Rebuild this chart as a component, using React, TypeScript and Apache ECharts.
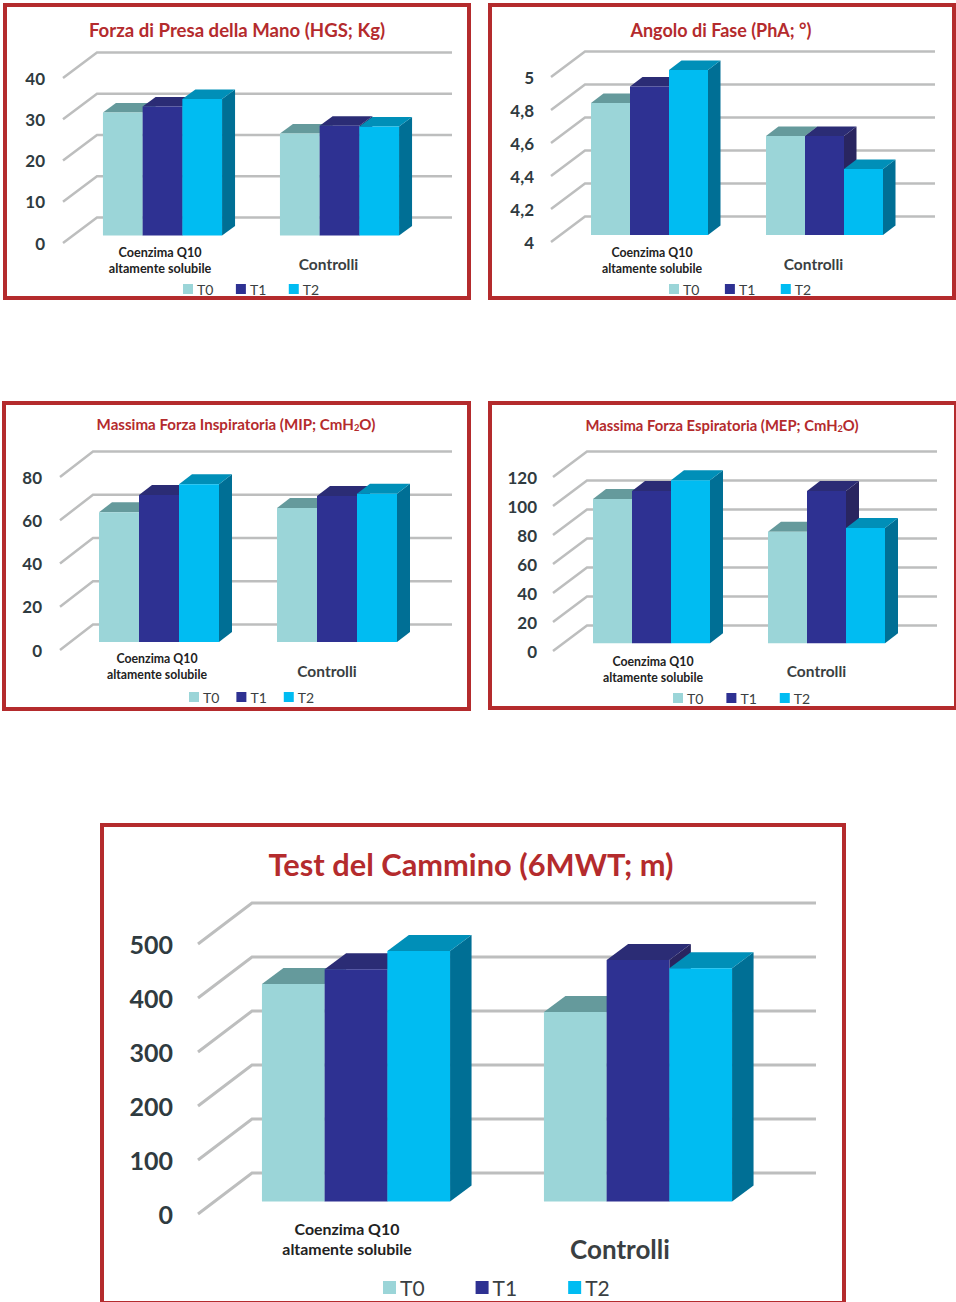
import React, { useEffect, useRef } from "react";
import * as echarts from "echarts";

// Group labels and legend entries shared by all panels
const categories = ["Coenzima Q10\naltamente solubile", "Controlli"];
const seriesNames = ["T0", "T1", "T2"];

// Hand grip strength (HGS; Kg)
const hgsT0 = [29.8, 24.7];
const hgsT1 = [31.3, 26.6];
const hgsT2 = [33.1, 26.4];

// Phase angle (PhA)
const phaT0 = [4.8, 4.6];
const phaT1 = [4.9, 4.6];
const phaT2 = [5.0, 4.4];

// Maximal inspiratory pressure (MIP; CmH2O)
const mipT0 = [60, 62];
const mipT1 = [68, 67.5];
const mipT2 = [73, 68.5];

// Maximal expiratory pressure (MEP; CmH2O)
const mepT0 = [99.5, 77];
const mepT1 = [105, 105];
const mepT2 = [112.5, 79.5];

// Six-minute walk test (6MWT; m)
const mwtT0 = [403, 351];
const mwtT1 = [430, 447];
const mwtT2 = [464, 432];

const frontColors = ["#9BD5D8", "#2E3192", "#00BCF2"];
const topColors = ["#659A9C", "#2B2C75", "#008FB8"];
const sideColors = ["#6C9FA1", "#292560", "#006F95"];
const TITLE_RED = "#B42B2D";
const FONT = "Lato, 'Open Sans', sans-serif";

const panels = [
  {
    title: "Forza di Presa della Mano (HGS; Kg)", values: [hgsT0, hgsT1, hgsT2], min: 0, max: 40, step: 10,
    frame: [5, 5, 464, 293], frameWidth: 4, titleAt: [237, 30], titleSize: 18.6,
    y0: 243, yMax: 78, c1: 162.5, band: 177, barW: 39.7, labelRight: 45,
    lineLeft: 63, lineDx: 34, lineDy: 25.5, lineRight: 452, lineW: 2.5,
    baseUp: 7.5, depthX: 13, depthY: 9.5, axisSize: 17, catSize: 12.6, ctlSize: 15.5,
    catTop: 244, catLine: 16, catShift: -2.5, ctlY: 264, ctlShift: -11,
    legendAt: [183, 289], legendSize: 14, swatch: 10, legendGap: 22.5,
  },
  {
    title: "Angolo di Fase (PhA; °)", values: [phaT0, phaT1, phaT2], min: 4, max: 5, step: 0.2,
    frame: [490, 5, 464, 293], frameWidth: 4, titleAt: [721, 30], titleSize: 18,
    y0: 242, yMax: 77, c1: 649.5, band: 175, barW: 39, labelRight: 534,
    lineLeft: 551, lineDx: 34, lineDy: 25.5, lineRight: 935, lineW: 2.5,
    baseUp: 7, depthX: 12.5, depthY: 9.5, axisSize: 17, catSize: 12.3, ctlSize: 15.5,
    catTop: 244, catLine: 16, catShift: 2.5, ctlY: 264, ctlShift: -11,
    legendAt: [669, 289], legendSize: 14, swatch: 10, legendGap: 25.5,
  },
  {
    title: "Massima Forza Inspiratoria (MIP; CmH{s|2}O)", values: [mipT0, mipT1, mipT2], min: 0, max: 80, step: 20,
    frame: [4, 403, 465, 306], frameWidth: 4, titleAt: [236, 423.5], titleSize: 15.1,
    y0: 650, yMax: 477, c1: 159, band: 178, barW: 40, labelRight: 42,
    lineLeft: 60, lineDx: 33, lineDy: 25.5, lineRight: 452, lineW: 2.5,
    baseUp: 8, depthX: 13, depthY: 10, axisSize: 17, catSize: 12.3, ctlSize: 15.5,
    catTop: 651, catLine: 15.5, catShift: -2, ctlY: 671, ctlShift: -10,
    legendAt: [189, 697], legendSize: 14, swatch: 10, legendGap: 17,
  },
  {
    title: "Massima Forza Espiratoria (MEP; CmH{s|2}O)", values: [mepT0, mepT1, mepT2], min: 0, max: 120, step: 20,
    frame: [490, 403, 466, 305], frameWidth: 4, titleAt: [722, 425], titleSize: 14.8,
    y0: 651, yMax: 477, c1: 651.5, band: 175, barW: 39, labelRight: 537,
    lineLeft: 553, lineDx: 34, lineDy: 25.5, lineRight: 937, lineW: 2.5,
    baseUp: 7.7, depthX: 13, depthY: 10, axisSize: 17, catSize: 12.3, ctlSize: 15.5,
    catTop: 653, catLine: 16, catShift: 1.5, ctlY: 671, ctlShift: -10,
    legendAt: [673, 698], legendSize: 14, swatch: 10, legendGap: 23,
  },
  {
    title: "Test del Cammino (6MWT; m)", values: [mwtT0, mwtT1, mwtT2], min: 0, max: 500, step: 100,
    frame: [102, 825, 742, 478], frameWidth: 4, titleAt: [471, 864], titleSize: 30.8,
    y0: 1214, yMax: 944, c1: 356, band: 282, barW: 62.7, labelRight: 173,
    lineLeft: 198, lineDx: 54, lineDy: 41, lineRight: 816, lineW: 3,
    baseUp: 12.5, depthX: 21.5, depthY: 16, axisSize: 25, catSize: 15.9, ctlSize: 26,
    catTop: 1218, catLine: 20, catShift: -9, ctlY: 1249, ctlShift: -18,
    legendAt: [383, 1287.5], legendSize: 21, swatch: 13, legendGap: 51,
  },
];

function buildOption() {
  const title: any[] = [];
  const grid: any[] = [];
  const xAxis: any[] = [];
  const yAxis: any[] = [];
  const legend: any[] = [];
  const series: any[] = [];
  const graphic: any[] = [];

  panels.forEach((p, i) => {
    const [fx, fy, fw, fh] = p.frame;
    graphic.push({
      type: "rect",
      shape: { x: fx, y: fy, width: fw, height: fh },
      style: { fill: "#fff", stroke: TITLE_RED, lineWidth: p.frameWidth },
      z: -1,
    });

    title.push({
      text: p.title,
      left: p.titleAt[0],
      top: p.titleAt[1],
      textAlign: "center",
      textVerticalAlign: "middle",
      padding: 0,
      textStyle: {
        color: TITLE_RED,
        fontFamily: FONT,
        fontWeight: "bold",
        fontSize: p.titleSize,
        rich: {
          s: {
            color: TITLE_RED,
            fontFamily: FONT,
            fontWeight: "bold",
            fontSize: p.titleSize * 0.62,
            padding: [7, 0, 0, 0],
          },
        },
      },
    });

    const gridLeft = p.c1 - p.band / 2;
    grid.push({
      left: gridLeft,
      width: p.band * 2,
      top: p.yMax,
      height: p.y0 - p.yMax,
      containLabel: false,
    });

    // The two group labels sit off their band centres, so each is nudged with padding
    const nudge = (shift: number) =>
      shift < 0 ? [0, -2 * shift, 0, 0] : [0, 0, 0, 2 * shift];

    xAxis.push({
      type: "category",
      gridIndex: i,
      data: categories,
      axisLine: { show: false },
      axisTick: { show: false },
      axisLabel: {
        interval: 0,
        margin: p.catTop - p.y0,
        formatter: (v: string) =>
          v.includes("\n")
            ? v.split("\n").map((s) => `{a|${s}}`).join("\n")
            : `{b|${v}}`,
        rich: {
          a: {
            fontFamily: FONT,
            fontWeight: "bold",
            fontSize: p.catSize,
            lineHeight: p.catLine,
            color: "#222",
            padding: nudge(p.catShift),
          },
          b: {
            fontFamily: FONT,
            fontWeight: "bold",
            fontSize: p.ctlSize,
            lineHeight: 2 * (p.ctlY - p.catTop),
            color: "#3A3F42",
            padding: nudge(p.ctlShift),
          },
        },
      },
    });

    yAxis.push({
      type: "value",
      gridIndex: i,
      min: p.min,
      max: p.max,
      interval: p.step,
      axisLine: { show: false },
      axisTick: { show: false },
      splitLine: { show: false },
      axisLabel: {
        margin: gridLeft - p.labelRight,
        fontFamily: FONT,
        fontWeight: "bold",
        fontSize: p.axisSize,
        color: "#2F3B40",
        formatter: (v: number) => String(Number(v.toFixed(1))).replace(".", ","),
      },
    });

    legend.push({
      data: seriesNames,
      left: p.legendAt[0],
      top: p.legendAt[1] - p.legendSize / 2,
      orient: "horizontal",
      padding: 0,
      icon: "rect",
      itemWidth: p.swatch,
      itemHeight: p.swatch,
      itemGap: p.legendGap,
      selectedMode: false,
      textStyle: {
        fontFamily: FONT,
        fontSize: p.legendSize,
        color: "#3A3F42",
        padding: [0, 0, 0, -1],
      },
    });

    // Receding gridlines: a short diagonal on the side wall, then the back wall
    const ticks: number[][] = [];
    for (let k = 0; k <= Math.round((p.max - p.min) / p.step); k++) {
      ticks.push([0, p.min + k * p.step]);
    }
    series.push({
      type: "custom",
      name: "griglia",
      coordinateSystem: "cartesian2d",
      xAxisIndex: i,
      yAxisIndex: i,
      silent: true,
      encode: { x: 0, y: 1 },
      data: ticks,
      renderItem: (_params: any, api: any) => {
        const y = api.coord([0, api.value(1)])[1];
        return {
          type: "polyline",
          shape: {
            points: [
              [p.lineLeft, y],
              [p.lineLeft + p.lineDx, y - p.lineDy],
              [p.lineRight, y - p.lineDy],
            ],
          },
          style: { fill: "none", stroke: "#BDBEBE", lineWidth: p.lineW },
        };
      },
    });

    // Extruded columns, painted left to right so each one overlaps its neighbour's side
    p.values.forEach((vals, s) => {
      series.push({
        type: "custom",
        name: seriesNames[s],
        coordinateSystem: "cartesian2d",
        xAxisIndex: i,
        yAxisIndex: i,
        silent: true,
        encode: { x: 0, y: 1 },
        itemStyle: { color: frontColors[s] },
        data: vals.map((v, c) => [c, v]),
        renderItem: (_params: any, api: any) => {
          const cat = api.value(0);
          const top = api.coord([cat, api.value(1)]);
          const bottom = api.coord([cat, p.min]);
          const x0 = top[0] + (s - 1.5) * p.barW;
          const x1 = x0 + p.barW;
          const yt = top[1] - p.baseUp;
          const yb = bottom[1] - p.baseUp;
          const dx = p.depthX;
          const dy = p.depthY;
          return {
            type: "group",
            children: [
              {
                type: "polygon",
                shape: { points: [[x1, yt], [x1 + dx, yt - dy], [x1 + dx, yb - dy], [x1, yb]] },
                style: { fill: sideColors[s] },
              },
              {
                type: "polygon",
                shape: { points: [[x0, yt], [x0 + dx, yt - dy], [x1 + dx, yt - dy], [x1, yt]] },
                style: { fill: topColors[s] },
              },
              {
                type: "polygon",
                shape: { points: [[x0, yt], [x1, yt], [x1, yb], [x0, yb]] },
                style: { fill: frontColors[s] },
              },
            ],
          };
        },
      });
    });
  });

  return {
    animation: false,
    backgroundColor: "#fff",
    title,
    grid,
    xAxis,
    yAxis,
    legend,
    series,
    graphic,
  };
}

export default function App() {
  const ref = useRef<HTMLDivElement>(null);

  useEffect(() => {
    const chart = echarts.init(ref.current!, undefined, { renderer: "svg" });
    chart.setOption(buildOption());
    return () => chart.dispose();
  }, []);

  return (
    <div
      ref={ref}
      style={{ position: "absolute", left: 0, top: 0, width: 956, height: 1302 }}
    />
  );
}
